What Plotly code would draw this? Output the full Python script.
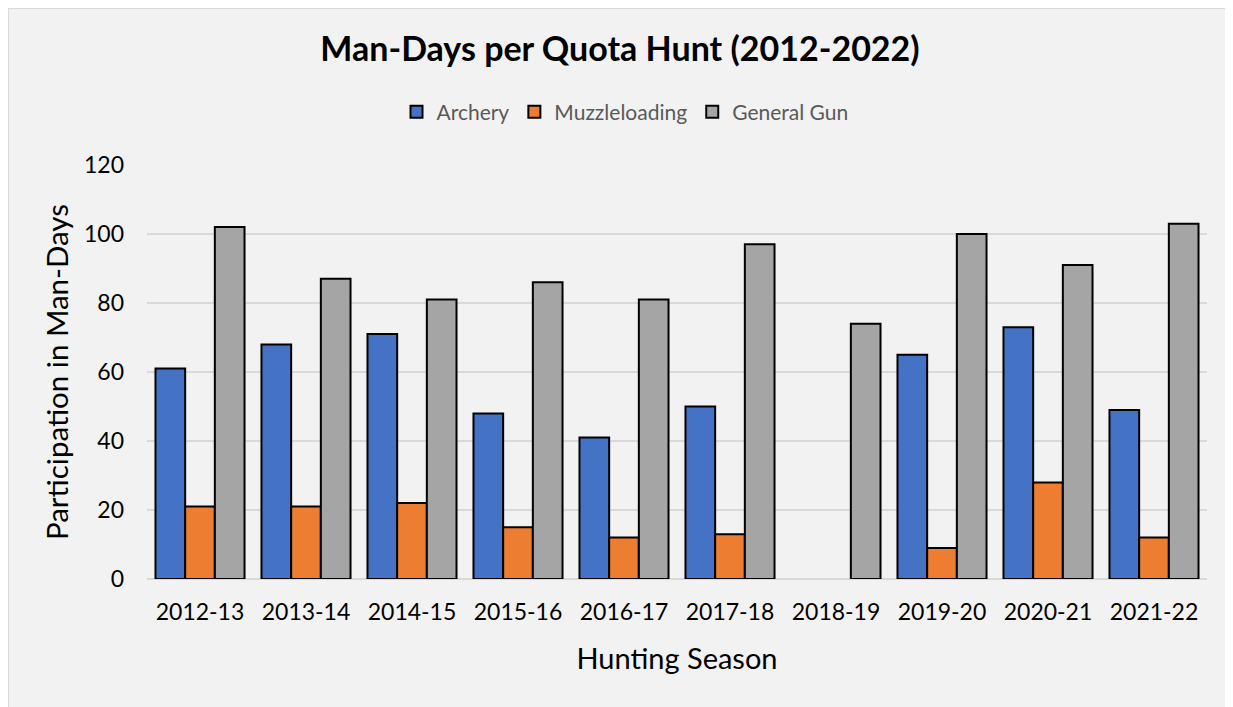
import plotly.graph_objects as go

seasons = ["2012-13", "2013-14", "2014-15", "2015-16", "2016-17",
           "2017-18", "2018-19", "2019-20", "2020-21", "2021-22"]
archery = [61, 68, 71, 48, 41, 50, None, 65, 73, 49]
muzzleloading = [21, 21, 22, 15, 12, 13, None, 9, 28, 12]
general_gun = [102, 87, 81, 86, 81, 97, 74, 100, 91, 103]
y_ticks = [0, 20, 40, 60, 80, 100, 120]

FONT = "Lato"
W, H = 1225, 699  # page body adds an 8px margin

fig = go.Figure()
for name, vals, color in [("Archery", archery, "#4472c4"),
                          ("Muzzleloading", muzzleloading, "#ed7d31"),
                          ("General Gun", general_gun, "#a5a5a5")]:
    fig.add_trace(go.Bar(x=seasons, y=vals, name=name,
                         marker=dict(color=color, line=dict(color="black", width=2))))

# light border on the left and top edges of the chart area
fig.add_shape(type="line", xref="paper", yref="paper",
              x0=-139 / 1060, x1=-139 / 1060, y0=-1, y1=2,
              line=dict(color="#d9d9d9", width=2), layer="below")
fig.add_shape(type="line", xref="paper", yref="paper",
              x0=-1, x1=2, y0=1 + 157 / 414, y1=1 + 157 / 414,
              line=dict(color="#d9d9d9", width=2), layer="below")

fig.update_layout(
    width=W, height=H,
    margin=dict(l=139, r=26, t=157, b=128, autoexpand=False),
    paper_bgcolor="#f2f2f2", plot_bgcolor="#f2f2f2",
    barmode="group", bargap=0.16, bargroupgap=0,
    font=dict(family=FONT, color="black"),
    title=dict(text="<b>Man-Days per Quota Hunt (2012-2022)</b>",
               x=612 / W, xanchor="center", y=1 - 41 / H, yanchor="middle",
               font=dict(family=FONT, size=34, color="black")),
    legend=dict(orientation="h", xref="container", yref="container",
                x=617 / W, xanchor="center", y=1 - 104 / H, yanchor="middle",
                font=dict(family=FONT, size=21, color="#595959"),
                bgcolor="rgba(0,0,0,0)"),
    showlegend=True,
)
fig.update_xaxes(
    title=dict(text="Hunting Season", font=dict(family=FONT, size=29, color="black"), standoff=24),
    tickfont=dict(family=FONT, size=23, color="black"),
    showgrid=False, showline=False, ticks="", ticklabelstandoff=17,
)
fig.update_yaxes(
    title=dict(text="Participation in Man-Days", font=dict(family=FONT, size=29.5, color="black"), standoff=6),
    range=[0, 120], tickvals=y_ticks,
    tickfont=dict(family=FONT, size=23, color="black"),
    showgrid=True, gridcolor="#d9d9d9", gridwidth=1.5,
    zeroline=True, zerolinecolor="#d9d9d9", zerolinewidth=1.5,
    showline=False, ticks="", ticklabelstandoff=22,
)

fig.write_html("out.html")
